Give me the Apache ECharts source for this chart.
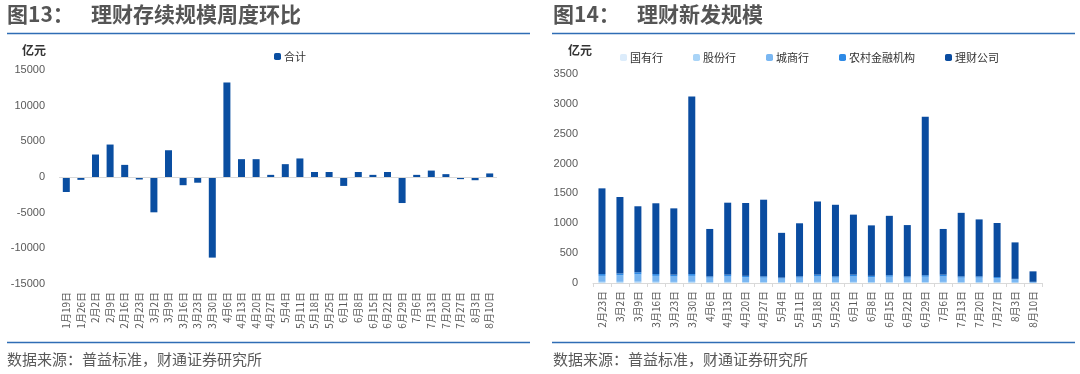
<!DOCTYPE html>
<html><head><meta charset="utf-8">
<script src="https://cdn.jsdelivr.net/npm/echarts@6/dist/echarts.min.js"></script>
<style>html,body{margin:0;padding:0;background:#fff}#c{width:1080px;height:374px}</style>
</head><body><div id="c"></div>
<script>
// Left chart: weekly change of outstanding wealth-management scale (亿元)
const weeksLeft = ['1月19日','1月26日','2月2日','2月9日','2月16日','2月23日','3月2日','3月9日','3月16日','3月23日','3月30日','4月6日','4月13日','4月20日','4月27日','5月4日','5月11日','5月18日','5月25日','6月1日','6月8日','6月15日','6月22日','6月29日','7月6日','7月13日','7月20日','7月27日','8月3日','8月10日'];
const totalChange = [-2100,-400,3150,4550,1700,-350,-4950,3750,-1150,-800,-11300,13250,2500,2500,300,1800,2600,700,700,-1250,700,300,700,-3650,300,900,400,-300,-450,500];

// Right chart: new issuance by institution type (亿元)
const weeksRight = ['2月23日','3月2日','3月9日','3月16日','3月23日','3月30日','4月6日','4月13日','4月20日','4月27日','5月4日','5月11日','5月18日','5月25日','6月1日','6月8日','6月15日','6月22日','6月29日','7月6日','7月13日','7月20日','7月27日','8月3日','8月10日'];
const guoyouhang = [5,5,6,5,4,5,3,4,4,3,3,3,4,3,4,3,4,3,4,4,3,3,3,2,1];
const gufenhang = [15,15,18,15,14,15,10,14,12,10,8,10,14,10,14,12,13,10,13,14,10,10,10,6,2];
const chengshanghang = [100,110,121,100,92,100,77,92,84,77,64,77,92,77,92,85,88,77,88,92,77,77,70,52,12];
const nongcun = [30,30,35,30,30,30,20,30,20,20,15,20,30,20,30,20,25,20,25,30,20,20,17,10,5];
const licaigongsi = [1435,1280,1105,1185,1110,2975,795,1205,1220,1285,750,890,1225,1200,1005,845,995,860,2655,765,1065,955,905,610,175];

const leftTicks = { min: -15000, max: 15000, interval: 5000 };
const rightTicks = { min: 0, max: 3500, interval: 500 };

const rightNames = ['国有行','股份行','城商行','农村金融机构','理财公司'];
const rightColors = ['#dcecfb','#a9d4f7','#7ab7f2','#2e8ae6','#0a4ca0'];
const rightData = [guoyouhang, gufenhang, chengshanghang, nongcun, licaigongsi];

const cjk = '"Noto Sans CJK SC", "Noto Sans", sans-serif';
const num = '"Liberation Sans", Arial, sans-serif';
const gray = '#595959';

const chart = echarts.init(document.getElementById('c'));
const xLabel = { rotate: 90, fontSize: 10, color: gray, fontFamily: cjk, margin: 8, interval: 0 };
const yLabel = { fontSize: 11, color: gray, fontFamily: num, formatter: v => String(v) };

chart.setOption({
  animation: false,
  graphic: [
    { type: 'text', left: 7, top: 4, style: { text: '图13：', fontSize: 21, fontFamily: cjk, fill: '#555', fontWeight: 'bold' } },
    { type: 'text', left: 91, top: 4, style: { text: '理财存续规模周度环比', fontSize: 21, fontFamily: cjk, fill: '#555', fontWeight: 'bold' } },
    { type: 'text', left: 553, top: 4, style: { text: '图14：', fontSize: 21, fontFamily: cjk, fill: '#555', fontWeight: 'bold' } },
    { type: 'text', left: 637, top: 4, style: { text: '理财新发规模', fontSize: 21, fontFamily: cjk, fill: '#555', fontWeight: 'bold' } },
    { type: 'line', shape: { x1: 7, y1: 33.5, x2: 530, y2: 33.5 }, style: { stroke: '#2f6db5', lineWidth: 1.5 } },
    { type: 'line', shape: { x1: 552, y1: 33.5, x2: 1075, y2: 33.5 }, style: { stroke: '#2f6db5', lineWidth: 1.5 } },
    { type: 'line', shape: { x1: 7, y1: 342.5, x2: 530, y2: 342.5 }, style: { stroke: '#2f6db5', lineWidth: 1.5 } },
    { type: 'line', shape: { x1: 552, y1: 342.5, x2: 1075, y2: 342.5 }, style: { stroke: '#2f6db5', lineWidth: 1.5 } },
    { type: 'text', left: 7, top: 352, style: { text: '数据来源：普益标准，财通证券研究所', fontSize: 15, fontFamily: cjk, fill: gray } },
    { type: 'text', left: 553, top: 352, style: { text: '数据来源：普益标准，财通证券研究所', fontSize: 15, fontFamily: cjk, fill: gray } },
    { type: 'text', left: 22, top: 44, style: { text: '亿元', fontSize: 12, fontFamily: cjk, fill: '#333', fontWeight: 'bold' } },
    { type: 'text', left: 568, top: 44, style: { text: '亿元', fontSize: 12, fontFamily: cjk, fill: '#333', fontWeight: 'bold' } }
  ],
  legend: [
    { data: ['合计'], left: 269, top: 46, itemWidth: 7, itemHeight: 7, itemGap: 10,
      textStyle: { fontSize: 11, fontFamily: cjk, color: '#333', padding: [0,0,0,-2] } },
    { data: rightNames, left: 615, top: 47, itemWidth: 7, itemHeight: 7, itemGap: 30,
      textStyle: { fontSize: 11, fontFamily: cjk, color: '#333', padding: [0,0,0,-2] } }
  ],
  grid: [
    { left: 59, top: 70, width: 438, height: 214 },
    { left: 593, top: 74, width: 449, height: 209 }
  ],
  xAxis: [
    { type: 'category', gridIndex: 0, data: weeksLeft, axisLine: { show: false }, axisTick: { show: false }, axisLabel: xLabel },
    { type: 'category', gridIndex: 1, data: weeksRight, axisLine: { lineStyle: { color: '#d9d9d9' } },
      axisTick: { show: true, length: 4, lineStyle: { color: '#d9d9d9' } }, axisLabel: xLabel }
  ],
  yAxis: [
    Object.assign({ type: 'value', gridIndex: 0, splitLine: { show: false }, axisLine: { show: false }, axisTick: { show: false },
      axisLabel: Object.assign({ margin: 14 }, yLabel) }, leftTicks),
    Object.assign({ type: 'value', gridIndex: 1, splitLine: { show: false }, axisLine: { show: false }, axisTick: { show: false },
      axisLabel: Object.assign({ margin: 15 }, yLabel) }, rightTicks)
  ],
  series: [
    { name: '合计', type: 'bar', xAxisIndex: 0, yAxisIndex: 0, data: totalChange, barWidth: 7,
      itemStyle: { color: '#0a4ea1' },
      markLine: { silent: true, symbol: 'none', label: { show: false },
        lineStyle: { color: '#d9d9d9', type: 'solid', width: 1 }, data: [{ yAxis: 0 }] } }
  ].concat(rightNames.map((n, i) => ({
    name: n, type: 'bar', stack: 'new', xAxisIndex: 1, yAxisIndex: 1, data: rightData[i], barWidth: 7,
    itemStyle: { color: rightColors[i] }
  })))
});
</script></body></html>
